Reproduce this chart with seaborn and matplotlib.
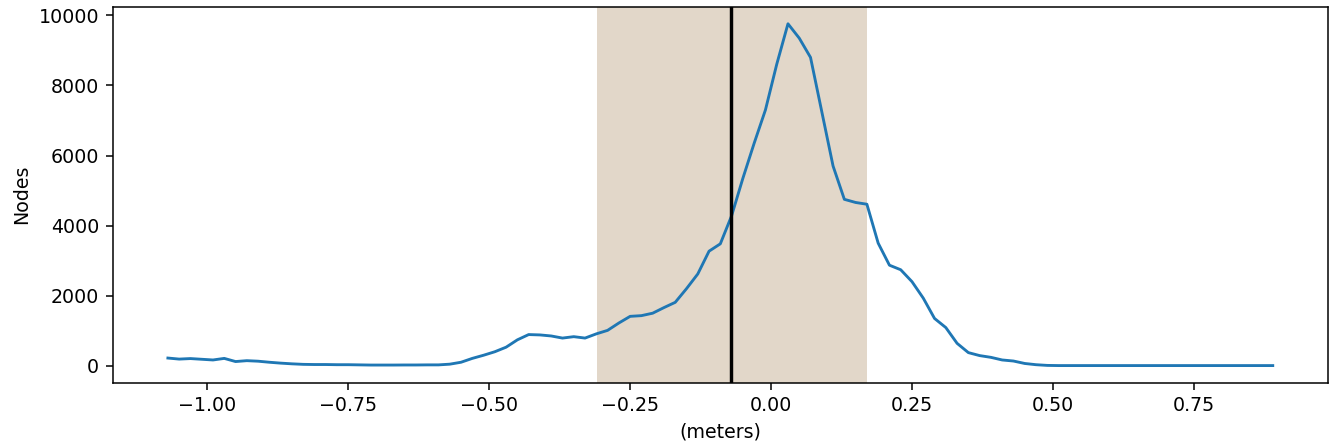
import numpy as np
import pandas as pd
import matplotlib
matplotlib.use("Agg")
import matplotlib.pyplot as plt
import seaborn as sns

# Bin centres (meters), 0.02 m apart
offset_m = np.round(np.arange(-1.07, 0.8901, 0.02), 2)

# Node counts per bin
node_counts = [
    220, 190, 205, 185, 165, 210, 120, 145, 130, 100,
    75, 55, 40, 35, 35, 30, 30, 25, 20, 20,
    20, 22, 22, 25, 25, 45, 100, 210, 300, 400,
    530, 740, 890, 880, 850, 790, 830, 790, 910, 1010,
    1220, 1410, 1430, 1500, 1660, 1810, 2200, 2620, 3270, 3480,
    4280, 5350, 6350, 7300, 8600, 9760, 9350, 8800, 7250, 5700,
    4750, 4660, 4610, 3500, 2870, 2740, 2400, 1930, 1350, 1090,
    640, 375, 290, 240, 165, 135, 65, 30, 10,
    5, 5, 5, 5, 5, 5, 5, 5, 5, 5,
    5, 5, 5, 5, 5, 5, 5, 5, 5, 5,
]

# Centre line and the shaded band around it
center_m = -0.0705
band_low_m = -0.3086
band_high_m = 0.1697

df = pd.DataFrame({"offset": offset_m, "nodes": node_counts})

fig = plt.figure(figsize=(1330 / 137, 446 / 137), dpi=137)
ax = fig.add_axes([0.0847, 0.142, 0.9138, 0.843])

ax.axvspan(band_low_m, band_high_m, color="#e2d7c9", lw=0, zorder=0)
sns.lineplot(data=df, x="offset", y="nodes", ax=ax, color="#1f77b4",
             linewidth=1.5, zorder=2)
ax.axvline(center_m, color="black", linewidth=1.8, zorder=3)

ax.set_xlabel("(meters)")
ax.set_ylabel("Nodes")
ax.set_yticks([0, 2000, 4000, 6000, 8000, 10000])

fig.savefig("out.png", dpi=137)
